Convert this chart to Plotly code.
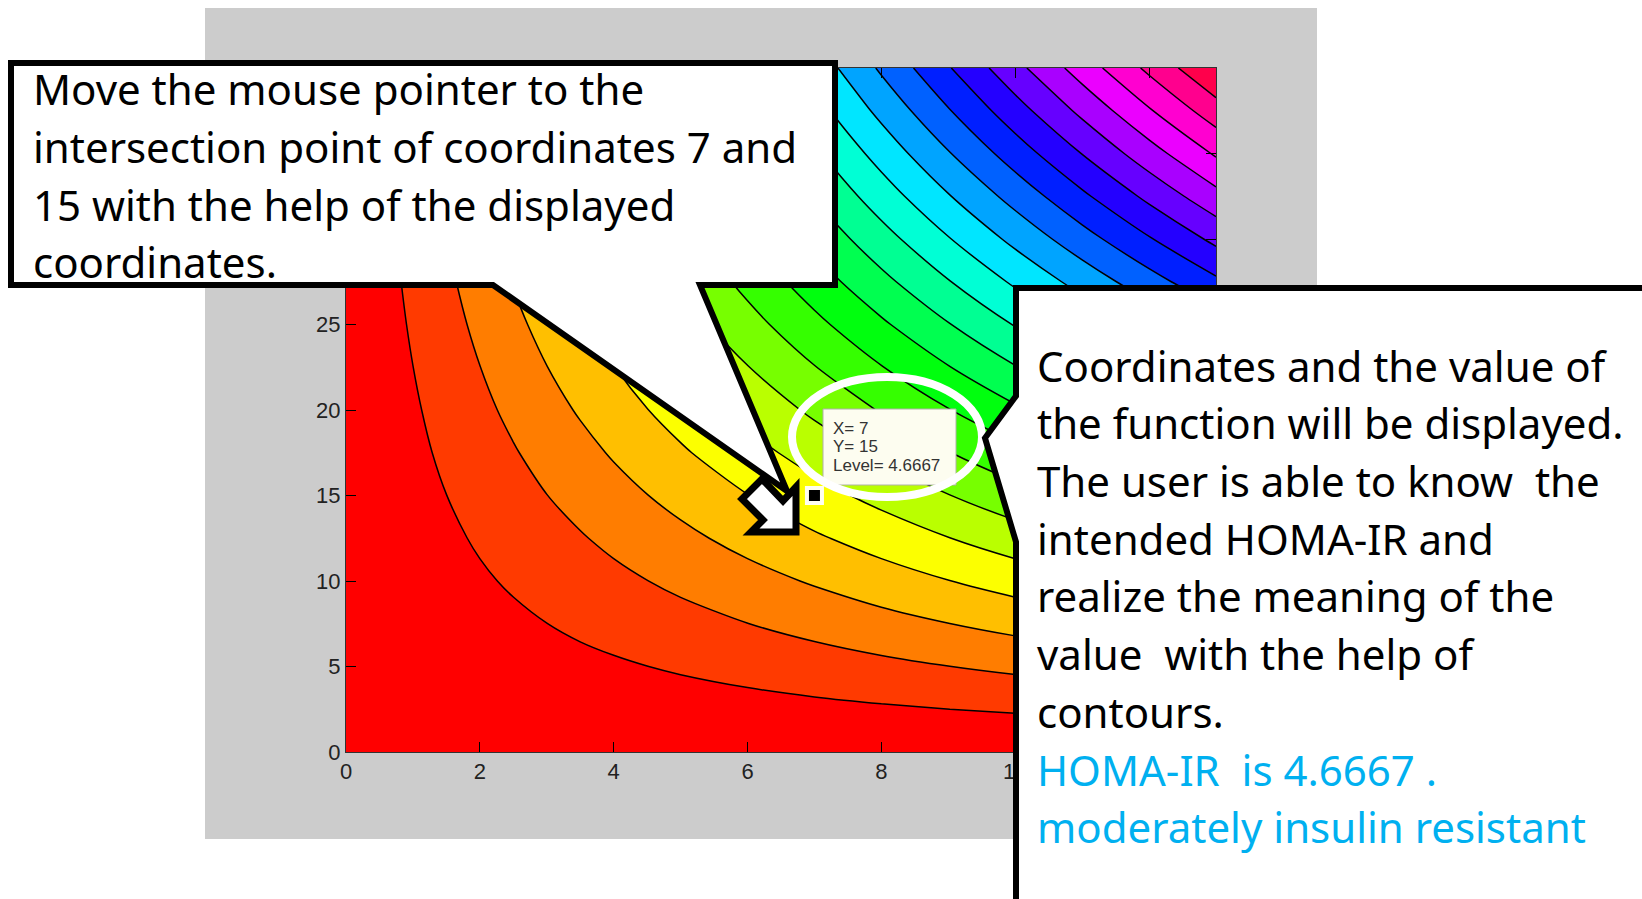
import plotly.graph_objects as go

# glucose (x) / insulin (y) grid and HOMA-IR table
x_vals = [0, 0.5, 1, 1.5, 2, 2.5, 3, 3.5, 4, 4.5, 5, 6, 7, 8, 9, 10, 11, 12, 13]
y_vals = [0, 2.5, 5, 7.5, 10, 12.5, 15, 17.5, 20, 22.5, 25, 27.5, 30, 32.5, 35, 37.5, 40]
z_vals = [
    [0, 0, 0, 0, 0, 0, 0, 0, 0, 0, 0, 0, 0, 0, 0, 0, 0, 0, 0],
    [0, 0.06, 0.11, 0.17, 0.22, 0.28, 0.33, 0.39, 0.44, 0.5, 0.56, 0.67, 0.78, 0.89, 1, 1.11, 1.22, 1.33, 1.44],
    [0, 0.11, 0.22, 0.33, 0.44, 0.56, 0.67, 0.78, 0.89, 1, 1.11, 1.33, 1.56, 1.78, 2, 2.22, 2.44, 2.67, 2.89],
    [0, 0.17, 0.33, 0.5, 0.67, 0.83, 1, 1.17, 1.33, 1.5, 1.67, 2, 2.33, 2.67, 3, 3.33, 3.67, 4, 4.33],
    [0, 0.22, 0.44, 0.67, 0.89, 1.11, 1.33, 1.56, 1.78, 2, 2.22, 2.67, 3.11, 3.56, 4, 4.44, 4.89, 5.33, 5.78],
    [0, 0.28, 0.56, 0.83, 1.11, 1.39, 1.67, 1.94, 2.22, 2.5, 2.78, 3.33, 3.89, 4.44, 5, 5.56, 6.11, 6.67, 7.22],
    [0, 0.33, 0.67, 1, 1.33, 1.67, 2, 2.33, 2.67, 3, 3.33, 4, 4.67, 5.33, 6, 6.67, 7.33, 8, 8.67],
    [0, 0.39, 0.78, 1.17, 1.56, 1.94, 2.33, 2.72, 3.11, 3.5, 3.89, 4.67, 5.44, 6.22, 7, 7.78, 8.56, 9.33, 10.11],
    [0, 0.44, 0.89, 1.33, 1.78, 2.22, 2.67, 3.11, 3.56, 4, 4.44, 5.33, 6.22, 7.11, 8, 8.89, 9.78, 10.67, 11.56],
    [0, 0.5, 1, 1.5, 2, 2.5, 3, 3.5, 4, 4.5, 5, 6, 7, 8, 9, 10, 11, 12, 13],
    [0, 0.56, 1.11, 1.67, 2.22, 2.78, 3.33, 3.89, 4.44, 5, 5.56, 6.67, 7.78, 8.89, 10, 11.11, 12.22, 13.33, 14.44],
    [0, 0.61, 1.22, 1.83, 2.44, 3.06, 3.67, 4.28, 4.89, 5.5, 6.11, 7.33, 8.56, 9.78, 11, 12.22, 13.44, 14.67, 15.89],
    [0, 0.67, 1.33, 2, 2.67, 3.33, 4, 4.67, 5.33, 6, 6.67, 8, 9.33, 10.67, 12, 13.33, 14.67, 16, 17.33],
    [0, 0.72, 1.44, 2.17, 2.89, 3.61, 4.33, 5.06, 5.78, 6.5, 7.22, 8.67, 10.11, 11.56, 13, 14.44, 15.89, 17.33, 18.78],
    [0, 0.78, 1.56, 2.33, 3.11, 3.89, 4.67, 5.44, 6.22, 7, 7.78, 9.33, 10.89, 12.44, 14, 15.56, 17.11, 18.67, 20.22],
    [0, 0.83, 1.67, 2.5, 3.33, 4.17, 5, 5.83, 6.67, 7.5, 8.33, 10, 11.67, 13.33, 15, 16.67, 18.33, 20, 21.67],
    [0, 0.89, 1.78, 2.67, 3.56, 4.44, 5.33, 6.22, 7.11, 8, 8.89, 10.67, 12.44, 14.22, 16, 17.78, 19.56, 21.33, 23.11],
]
band_colors = [
    '#ff0000', '#ff3a00', '#ff7d00', '#ffbf00', '#fcff00', '#baff00', '#77ff00', '#35ff00',
    '#00ff0e', '#00ff50', '#00ff93', '#00ffd5', '#00e6ff', '#00a4ff', '#0061ff', '#001fff',
    '#2400ff', '#6600ff', '#a900ff', '#eb00ff', '#ff00d0', '#ff008e', '#ff004b',
]
x_ticks = [0, 2, 4, 6, 8, 10, 12]
y_ticks = [0, 5, 10, 15, 20, 25, 30, 35, 40]
picked_x = [7]
picked_y = [15]

tooltip_lines = ['X= 7', 'Y= 15', 'Level= 4.6667']
note_left = [
    'Move the mouse pointer to the',
    'intersection point of coordinates 7 and',
    '15 with the help of the displayed',
    'coordinates.',
]
note_right = [
    'Coordinates and the value of',
    'the function will be displayed.',
    'The user is able to know\u00a0 the',
    'intended HOMA-IR and',
    'realize the meaning of the',
    'value\u00a0 with the help of',
    'contours.',
]
note_result = [
    'HOMA-IR\u00a0 is 4.6667 .',
    'moderately insulin resistant',
]

# plot area in page pixels
L, R, T, B = 346, 1216, 68, 752


def px(x):
    return (x - L) / (R - L)


def py(y):
    return (B - y) / (B - T)


def poly(points):
    return 'M' + ' L'.join(f'{px(a)},{py(b)}' for a, b in points) + ' Z'


def box(x0, y0, x1, y1, **kw):
    return dict(type='rect', xref='paper', yref='paper',
                x0=px(x0), y0=py(y0), x1=px(x1), y1=py(y1), **kw)


def path(points, **kw):
    return dict(type='path', xref='paper', yref='paper', path=poly(points), **kw)


# stepped colorscale, one colour per band
n = len(band_colors)
colorscale = []
for i, c in enumerate(band_colors):
    colorscale.append([i / n, c])
    colorscale.append([(i + 1) / n, c])

fig = go.Figure()
fig.add_trace(go.Contour(
    x=x_vals, y=y_vals, z=z_vals,
    zmin=0, zmax=23.11,
    contours=dict(start=1.005, end=22.12, size=1.005, coloring='fill'),
    colorscale=colorscale,
    line=dict(color='black', width=1.5, smoothing=0.8),
    showscale=False,
    hoverinfo='skip',
))
fig.add_trace(go.Scatter(
    x=picked_x, y=picked_y, mode='markers',
    marker=dict(symbol='square', size=15, color='black', line=dict(color='#fffff0', width=4)),
    showlegend=False,
))

shapes = [
    box(205, 8, 1317, 839, layer='below', fillcolor='#cccccc', line=dict(width=0)),
    box(823, 409, 956, 485, fillcolor='#fdfdf0', line=dict(color='#b0b0a8', width=1)),
    dict(type='circle', xref='paper', yref='paper', x0=px(792), y0=py(377), x1=px(982), y1=py(497),
         fillcolor='rgba(0,0,0,0)', line=dict(color='white', width=8)),
    path([(11, 63), (835, 63), (835, 285), (700, 285), (787, 491), (493, 285), (11, 285)],
         fillcolor='white', line=dict(color='black', width=6)),
    path([(1016, 288), (1670, 288), (1670, 930), (1016, 930), (1016, 542), (985, 438), (1016, 396)],
         fillcolor='white', line=dict(color='black', width=6)),
    # mouse cursor
    path([(796, 532), (796, 487), (783, 501), (762, 479), (742, 499), (763, 520), (751, 532)],
         fillcolor='white', line=dict(color='black', width=7)),
]

annotations = []


def add_text(text, x, y, size, color='black', family='Noto Sans'):
    annotations.append(dict(
        text=text, x=px(x), y=py(y), xref='paper', yref='paper',
        xanchor='left', yanchor='middle', showarrow=False,
        font=dict(family=family, size=size, color=color),
    ))


for i, line in enumerate(tooltip_lines):
    add_text(line, 831, 428 + i * 18.5, 17, color='#333333', family='Liberation Sans')
for i, line in enumerate(note_left):
    add_text(line, 31, 89 + i * 57.6, 42)
for i, line in enumerate(note_right):
    add_text(line, 1035, 365 + i * 57.7, 42)
for i, line in enumerate(note_result):
    add_text(line, 1035, 769 + i * 57.7, 42, color='#00b0f0')

fig.update_layout(
    width=1642,
    height=899,
    autosize=False,
    margin=dict(l=L, r=1642 - R, t=T, b=899 - B, pad=0),
    paper_bgcolor='white',
    plot_bgcolor='white',
    font=dict(family='Liberation Sans', color='#222222'),
    showlegend=False,
    shapes=shapes,
    annotations=annotations,
    xaxis=dict(range=[0, 13], tickvals=x_ticks, ticks='inside', ticklen=10, tickcolor='black',
               tickfont=dict(size=22), showgrid=False, zeroline=False, showline=True,
               linecolor='#333333', mirror='ticks'),
    yaxis=dict(range=[0, 40], tickvals=y_ticks, ticks='inside', ticklen=10, tickcolor='black',
               tickfont=dict(size=22), showgrid=False, zeroline=False, showline=True,
               linecolor='#333333', mirror='ticks'),
)

fig.write_html("out.html", config=dict(displayModeBar=False),
               post_script="document.body.style.margin='0';document.body.style.overflow='hidden';")
